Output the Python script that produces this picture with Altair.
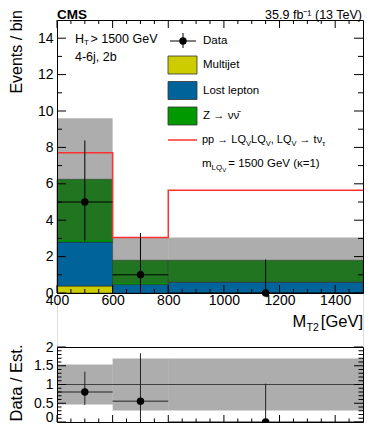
import altair as alt
import pandas as pd
import numpy as np

# ---------------- data ----------------
bin_lo = [400, 600, 800]
bin_hi = [600, 800, 1500]
components = ["Multijet", "Lost lepton", "Z → νν̄"]
comp_colors = ["#cccc00", "#00649b", "#009900"]
multijet = [0.38, 0.0, 0.0]
lost_lepton = [2.42, 0.47, 0.60]
znunu = [3.45, 1.33, 1.20]
est_unc = [3.35, 1.25, 1.25]
signal = [7.7, 3.05, 5.65]
data_x = [500, 700, 1150]
data_n = [5, 1, 0]
data_lo = [2.84, 0.17, 0.0]
data_hi = [8.38, 3.30, 1.84]

x_major = [400, 600, 800, 1000, 1200, 1400]
x_minor = [450, 500, 550, 650, 700, 750, 850, 900, 950, 1050, 1100, 1150,
           1250, 1300, 1350, 1450]
y_major = [0, 2, 4, 6, 8, 10, 12, 14]
y_minor = [1, 3, 5, 7, 9, 11, 13]
r_major = [0, 0.5, 1, 1.5, 2]
r_minor = [0.1, 0.2, 0.3, 0.4, 0.6, 0.7, 0.8, 0.9, 1.1, 1.2, 1.3, 1.4,
           1.6, 1.7, 1.8, 1.9]

# ---------------- tables ----------------
stack_vals = [multijet, lost_lepton, znunu]
cum = np.cumsum(np.array(stack_vals), axis=0)
rows = []
for ci, comp in enumerate(components):
    for b in range(3):
        y0 = 0.0 if ci == 0 else float(cum[ci - 1][b])
        rows.append(dict(comp=comp, lo=bin_lo[b], hi=bin_hi[b], y0=y0,
                         y1=float(cum[ci][b])))
stack_df = pd.DataFrame(rows)
total = cum[-1]
band_df = pd.DataFrame(dict(lo=bin_lo, hi=bin_hi,
                            d=total - np.array(est_unc),
                            u=total + np.array(est_unc),
                            rd=1 - np.array(est_unc) / total,
                            ru=1 + np.array(est_unc) / total))
sig_df = pd.DataFrame(dict(x=bin_lo + [bin_hi[-1]], y=signal + [signal[-1]]))
pts_df = pd.DataFrame(dict(x=data_x, n=data_n, lo=data_lo, hi=data_hi,
                           bl=bin_lo, bh=bin_hi))
pts_df["r"] = pts_df["n"] / total
pts_df["rlo"] = pts_df["lo"] / total
pts_df["rhi"] = pts_df["hi"] / total
one_df = pd.DataFrame(dict(a=[400], b=[1500], y=[1.0]))
dummy = pd.DataFrame(dict(v=[400.0], w=[0.0]))

# ---------------- geometry ----------------
W = 306
H = 402
TOP_H = 273
R_TOP, R_BOT = 327, 402

XS = alt.Scale(domain=[400, 1500], nice=False, zero=False)
YT = alt.Scale(domain=[0, 15], range=[TOP_H, 0], nice=False, zero=False)
YR = alt.Scale(domain=[0, 2], range=[R_BOT, R_TOP], nice=False, zero=False)

# tick-mark tables (ROOT style: ticks drawn inside the frame)
xt_rows = []
for edge, sgn, big, small in [(0, 1, 8, 4), (TOP_H, -1, 8, 4),
                              (R_BOT, -1, 7, 3.5)]:
    for v in x_major:
        xt_rows.append(dict(v=v, p0=edge, p1=edge + sgn * big))
    for v in x_minor:
        xt_rows.append(dict(v=v, p0=edge, p1=edge + sgn * small))
xt_df = pd.DataFrame(xt_rows)


def ytick_df(major, minor, big, small):
    r = []
    for edge, sgn in [(0, 1), (W, -1)]:
        for v in major:
            r.append(dict(v=v, p0=edge, p1=edge + sgn * big))
        for v in minor:
            r.append(dict(v=v, p0=edge, p1=edge + sgn * small))
    return pd.DataFrame(r)


yt_df = ytick_df(y_major, y_minor, 9, 5)
yr_df = ytick_df(r_major, r_minor, 9, 4.5)

FONT = "Liberation Sans"
BASE = dict(grid=False, title=None, labelFlush=False, labelOverlap=False,
            domainColor="black", tickColor="black", domainWidth=1,
            ticks=False, tickSize=0, zindex=2, labelFont=FONT,
            labelColor="black")


def xaxis(**kw):
    a = dict(BASE)
    a.update(kw)
    return alt.Chart(dummy).mark_point(opacity=0).encode(
        x=alt.X("v:Q", scale=XS, axis=alt.Axis(**a)))


def yaxis(scale, **kw):
    a = dict(BASE)
    a.update(kw)
    return alt.Chart(dummy).mark_point(opacity=0).encode(
        y=alt.Y("w:Q", scale=scale, axis=alt.Axis(**a)))


def txt(x, y, s, size=11.5, align="left", baseline="middle", weight="normal",
        angle=0):
    return alt.Chart(dummy).mark_text(
        align=align, baseline=baseline, fontSize=size, fontWeight=weight,
        angle=angle, font=FONT, color="black").encode(
        x=alt.value(x), y=alt.value(y), text=alt.value(s))


# approximate advance widths (em) of Liberation Sans, for placing sub/superscripts
EM = {"p": .556, "L": .556, "Q": .778, "V": .667, ",": .278, " ": .278,
      "t": .278, "ν": .5, "τ": .45, "m": .833, "=": .584, "G": .778,
      "e": .556, "(": .333, ")": .333, "κ": .5, "Z": .611, "H": .722,
      "T": .611, ">": .584, "\u0304": 0.0}


def width(s, size):
    return sum(EM.get(c, .556) for c in s) * size


def seq(x0, y, parts):
    """parts: (text, size, dy) ; text '→' gets a centred slot; float = gap"""
    out = []
    x = x0
    for p in parts:
        if isinstance(p, (int, float)):
            x += p
            continue
        s, size, dy = p
        if s == "→":
            slot = 1.1 * size
            out.append(txt(x + slot / 2, y + dy, s, size=size, align="center"))
            x += slot
        else:
            out.append(txt(x, y + dy, s, size=size))
            x += width(s, size)
    return out


nolab = dict(labels=False)
axes = [
    # x axes: labels + frame lines
    xaxis(orient="bottom", offset=-(H - TOP_H), values=x_major, format="d",
          labelPadding=0, labelFontSize=14),
    xaxis(orient="bottom", offset=-H, values=x_major, **nolab),
    xaxis(orient="bottom", offset=-(H - R_TOP), values=x_major, **nolab),
    xaxis(orient="top", offset=-H, values=x_major, **nolab),
    # top panel y axes
    yaxis(YT, orient="left", values=y_major, format="d", labelPadding=4,
          labelFontSize=14),
    yaxis(YT, orient="left", offset=-W, values=y_major, **nolab),
    # ratio panel y axes
    yaxis(YR, orient="left", values=r_major[1:], format="~g", labelPadding=4,
          labelFontSize=14),
    yaxis(YR, orient="left", values=[0], format="~g", labelPadding=4,
          labelFontSize=14, labelOffset=-4.5, domain=False),
    yaxis(YR, orient="left", offset=-W, values=r_major, **nolab),
]

# ---------------- data layers ----------------
stack = alt.Chart(stack_df).mark_rect(stroke="#222222", strokeWidth=0.5).encode(
    x=alt.X("lo:Q", scale=XS, axis=None), x2="hi:Q",
    y=alt.Y("y0:Q", scale=YT, axis=None), y2="y1:Q",
    color=alt.Color("comp:N", scale=alt.Scale(domain=components,
                                              range=comp_colors), legend=None))
band = alt.Chart(band_df).mark_rect(fill="#4a4a4a", opacity=0.45).encode(
    x=alt.X("lo:Q", scale=XS, axis=None), x2="hi:Q",
    y=alt.Y("d:Q", scale=YT, axis=None), y2="u:Q")
sig = alt.Chart(sig_df).mark_line(interpolate="step-after", color="#ff3030",
                                  strokeWidth=1.5).encode(
    x=alt.X("x:Q", scale=XS, axis=None),
    y=alt.Y("y:Q", scale=YT, axis=None))
ey = alt.Chart(pts_df).mark_rule(color="black", strokeWidth=1).encode(
    x=alt.X("x:Q", scale=XS, axis=None),
    y=alt.Y("lo:Q", scale=YT, axis=None), y2="hi:Q")
ex = alt.Chart(pts_df).mark_rule(color="black", strokeWidth=1).encode(
    x=alt.X("bl:Q", scale=XS, axis=None), x2="bh:Q",
    y=alt.Y("n:Q", scale=YT, axis=None))
pts = alt.Chart(pts_df).mark_circle(size=55, color="black", opacity=1).encode(
    x=alt.X("x:Q", scale=XS, axis=None),
    y=alt.Y("n:Q", scale=YT, axis=None))

rband = alt.Chart(band_df).mark_rect(fill="#4a4a4a", opacity=0.45).encode(
    x=alt.X("lo:Q", scale=XS, axis=None), x2="hi:Q",
    y=alt.Y("rd:Q", scale=YR, axis=None), y2="ru:Q")
rone = alt.Chart(one_df).mark_rule(color="#404040", strokeWidth=1).encode(
    x=alt.X("a:Q", scale=XS, axis=None), x2="b:Q",
    y=alt.Y("y:Q", scale=YR, axis=None))
rey = alt.Chart(pts_df).mark_rule(color="#222222", strokeWidth=1).encode(
    x=alt.X("x:Q", scale=XS, axis=None),
    y=alt.Y("rlo:Q", scale=YR, axis=None), y2="rhi:Q")
rex = alt.Chart(pts_df).mark_rule(color="#222222", strokeWidth=1).encode(
    x=alt.X("bl:Q", scale=XS, axis=None), x2="bh:Q",
    y=alt.Y("r:Q", scale=YR, axis=None))
rpts = alt.Chart(pts_df).mark_circle(size=55, color="black", opacity=1).encode(
    x=alt.X("x:Q", scale=XS, axis=None),
    y=alt.Y("r:Q", scale=YR, axis=None))

# tick marks, positioned through the scales
xticks = alt.Chart(xt_df).mark_rule(color="black", strokeWidth=1).encode(
    x=alt.X("v:Q", scale=XS, axis=None),
    y=alt.Y("p0:Q", scale=None, axis=None), y2="p1:Q")
yticks = alt.Chart(yt_df).mark_rule(color="black", strokeWidth=1).encode(
    y=alt.Y("v:Q", scale=YT, axis=None),
    x=alt.X("p0:Q", scale=None, axis=None), x2="p1:Q")
rticks = alt.Chart(yr_df).mark_rule(color="black", strokeWidth=1).encode(
    y=alt.Y("v:Q", scale=YR, axis=None),
    x=alt.X("p0:Q", scale=None, axis=None), x2="p1:Q")

# ---------------- legend & annotations ----------------
LX0, LX1, TX = 111, 140, 146
legend = [
    alt.Chart(dummy).mark_rule(color="black").encode(
        x=alt.value(LX0 + 2), x2=alt.value(LX1 - 1), y=alt.value(21)),
    alt.Chart(dummy).mark_rule(color="black").encode(
        x=alt.value(126), y=alt.value(13), y2=alt.value(28)),
    alt.Chart(dummy).mark_circle(size=55, color="black", opacity=1).encode(
        x=alt.value(126), y=alt.value(21)),
    txt(TX, 21, "Data"),
]
for i, (comp, col) in enumerate(zip(components, comp_colors)):
    yt = 36 + i * 25.5
    legend.append(alt.Chart(dummy).mark_rect(fill=col, stroke="#333333",
                                             strokeWidth=0.8).encode(
        x=alt.value(LX0), x2=alt.value(LX1), y=alt.value(yt),
        y2=alt.value(yt + 18)))
legend += [
    txt(TX, 45, "Multijet"),
    txt(TX, 70.5, "Lost lepton"),
    alt.Chart(dummy).mark_rule(color="#ff3030", strokeWidth=1.5).encode(
        x=alt.value(LX0), x2=alt.value(LX1), y=alt.value(120)),
]
legend += seq(TX, 96, [("Z", 11.5, 0), 2.5, ("→", 11.5, 0), 2.5,
                       ("νν̄", 11.5, 0)])
S, SS = 11, 7.5
legend += seq(145, 120, [("pp", S, 0), 2.5, ("→", S, 0), 2.5, ("LQ", S, 0),
                         ("V", SS, 3.5), ("LQ", S, 0), ("V", SS, 3.5),
                         (", ", S, 0), ("LQ", S, 0), ("V", SS, 3.5), 2.5,
                         ("→", S, 0), 2.5, ("tν", S, 0), ("τ", SS, 3.5)])
legend += seq(145, 144, [("m", 11.5, 0), ("LQ", 8, 3.5), ("V", 6, 5.5), 2,
                         ("= 1500 GeV (κ=1)", 11.5, 0)])
legend += seq(18, 19, [("H", 12.5, 0), ("T", 8, 3.5), 1.5,
                       ("> 1500 GeV", 12.5, 0)])
legend += [
    txt(18, 37, "4-6j, 2b", size=12.5),
    # header
    txt(0, -1.5, "CMS", size=13.5, baseline="alphabetic", weight="bold"),
    txt(305, -1.5, "35.9 fb⁻¹ (13 TeV)", size=12.5, align="right",
        baseline="alphabetic"),
    # axis titles
    txt(306, 307, "[GeV]", size=16.5, align="right", baseline="alphabetic"),
    txt(235.5, 307, "M", size=16.5, baseline="alphabetic"),
    txt(249.5, 310.5, "T2", size=10.5, baseline="alphabetic"),
    txt(-35, -10, "Events / bin", size=16, align="right",
        baseline="alphabetic", angle=270),
    txt(-35, 363, "Data / Est.", size=16.5, align="center",
        baseline="alphabetic", angle=270),
]

layers = [stack, band, sig, ey, ex, pts, rband, rone, rey, rex, rpts,
          xticks, yticks, rticks] + legend + axes

chart = alt.layer(*layers).resolve_scale(y="independent").resolve_axis(
    x="independent", y="independent").properties(
    width=W, height=H,
    autosize=alt.AutoSizeParams(type="none"),
    padding={"left": 49, "top": 12, "right": 11, "bottom": 1},
).configure_view(stroke=None).configure(font=FONT)

chart.save("out.html", embed_options={"renderer": "svg", "actions": False})
